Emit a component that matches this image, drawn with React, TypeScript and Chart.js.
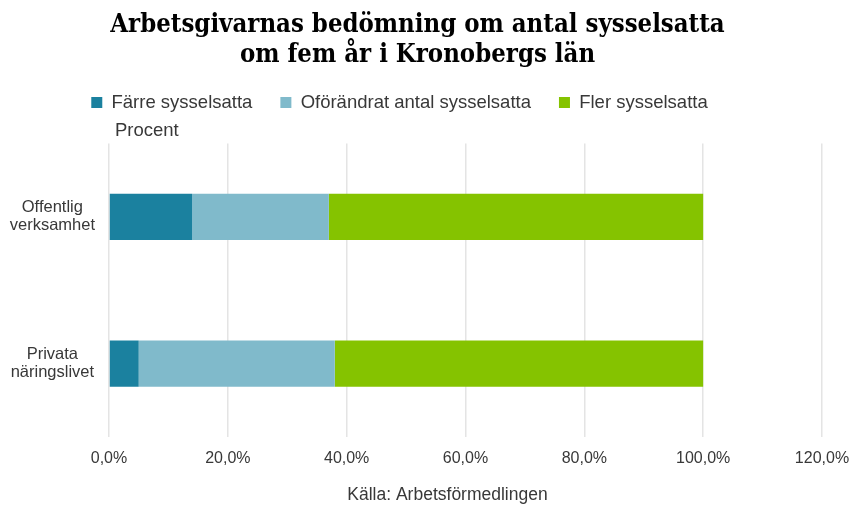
import { useEffect, useRef } from 'react';
import { Chart, registerables } from 'chart.js';

Chart.register(...registerables);

const titleLines = ['Arbetsgivarnas bedömning om antal sysselsatta', 'om fem år i Kronobergs län'];
const categories = [['Offentlig', 'verksamhet'], ['Privata', 'näringslivet']];
const seriesNames = ['Färre sysselsatta', 'Oförändrat antal sysselsatta', 'Fler sysselsatta'];
const farre = [14, 5];
const oforandrat = [23, 33];
const fler = [63, 62];
const seriesColors = ['#1b819f', '#80bacb', '#85c300'];
const xMin = 0;
const xMax = 120;
const xStep = 20;
const unitLabel = 'Procent';
const sourceLabel = 'Källa: Arbetsförmedlingen';

const TEXT = '#383838';
const SANS = "'Liberation Sans', Arial, sans-serif";

const extraText = {
  id: 'extraText',
  afterLayout(chart: any) {
    // title sits a little right, legend a little left of the canvas centre in the reference
    if (chart.titleBlock) chart.titleBlock.left += 13;
    if (chart.legend) chart.legend.left -= 23;
  },
  afterDraw(chart: any) {
    const { ctx, chartArea } = chart;
    ctx.save();
    ctx.fillStyle = TEXT;
    ctx.textBaseline = 'middle';
    ctx.font = `18.5px ${SANS}`;
    ctx.textAlign = 'left';
    ctx.fillText(unitLabel, chartArea.left + 6, chartArea.top - 12);
    ctx.font = `17.5px ${SANS}`;
    ctx.textAlign = 'center';
    ctx.fillText(sourceLabel, (chartArea.left + chartArea.right) / 2 - 18, chart.height - 10);
    ctx.restore();
  },
};

export default function App() {
  const ref = useRef<HTMLCanvasElement | null>(null);

  useEffect(() => {
    if (!ref.current) return;
    const values = [farre, oforandrat, fler];
    const chart = new Chart(ref.current, {
      type: 'bar',
      data: {
        labels: categories,
        datasets: seriesNames.map((name, i) => ({
          label: name,
          data: values[i],
          backgroundColor: seriesColors[i],
          borderWidth: 0,
          categoryPercentage: 1,
          barPercentage: 0.315,
        })),
      },
      plugins: [extraText],
      options: {
        indexAxis: 'y',
        responsive: false,
        animation: false,
        layout: { padding: { left: 0, right: 28, top: 0, bottom: 0 } },
        plugins: {
          title: {
            display: true,
            text: titleLines,
            color: '#000',
            font: { family: "'DejaVu Serif Condensed', 'DejaVu Serif', serif", size: 25.5, weight: 'bold', lineHeight: 1.18 },
            padding: { top: 10.5, bottom: -5.5 },
          },
          legend: {
            display: true,
            position: 'top',
            labels: {
              boxWidth: 11,
              boxHeight: 11,
              padding: 28,
              color: TEXT,
              font: { family: SANS, size: 18.5 },
            },
          },
          subtitle: {
            display: true,
            text: '',
            position: 'top',
            fullSize: false,
            weight: 500,
            font: { family: SANS, size: 18.5, lineHeight: 1.2 },
            padding: { top: 0, bottom: -0.5 },
          } as any,
          tooltip: { enabled: false },
        },
        scales: {
          x: {
            stacked: true,
            min: xMin,
            max: xMax,
            grid: { color: '#e4e4e4', drawTicks: false, lineWidth: 1.5 },
            border: { display: false },
            ticks: {
              stepSize: xStep,
              padding: 12,
              color: TEXT,
              font: { family: SANS, size: 16 },
              callback: (v: any) => Number(v).toFixed(1).replace('.', ',') + '%',
            },
            afterFit: (scale: any) => {
              scale.height = 68;
              scale.paddingRight = 0;
              scale.paddingLeft = 0;
            },
          },
          y: {
            stacked: true,
            grid: { display: false, drawTicks: false },
            border: { display: false },
            ticks: {
              color: TEXT,
              crossAlign: 'center',
              padding: 14,
              font: { family: SANS, size: 16.5, lineHeight: 1.1 },
            },
            afterFit: (scale: any) => {
              scale.width = 109;
            },
          },
        },
      },
    });
    return () => chart.destroy();
  }, []);

  return (
    <div style={{ position: 'fixed', left: 0, top: 0, width: 850, height: 505, background: '#fff' }}>
      <canvas ref={ref} width={850} height={505} style={{ display: 'block' }} />
    </div>
  );
}
